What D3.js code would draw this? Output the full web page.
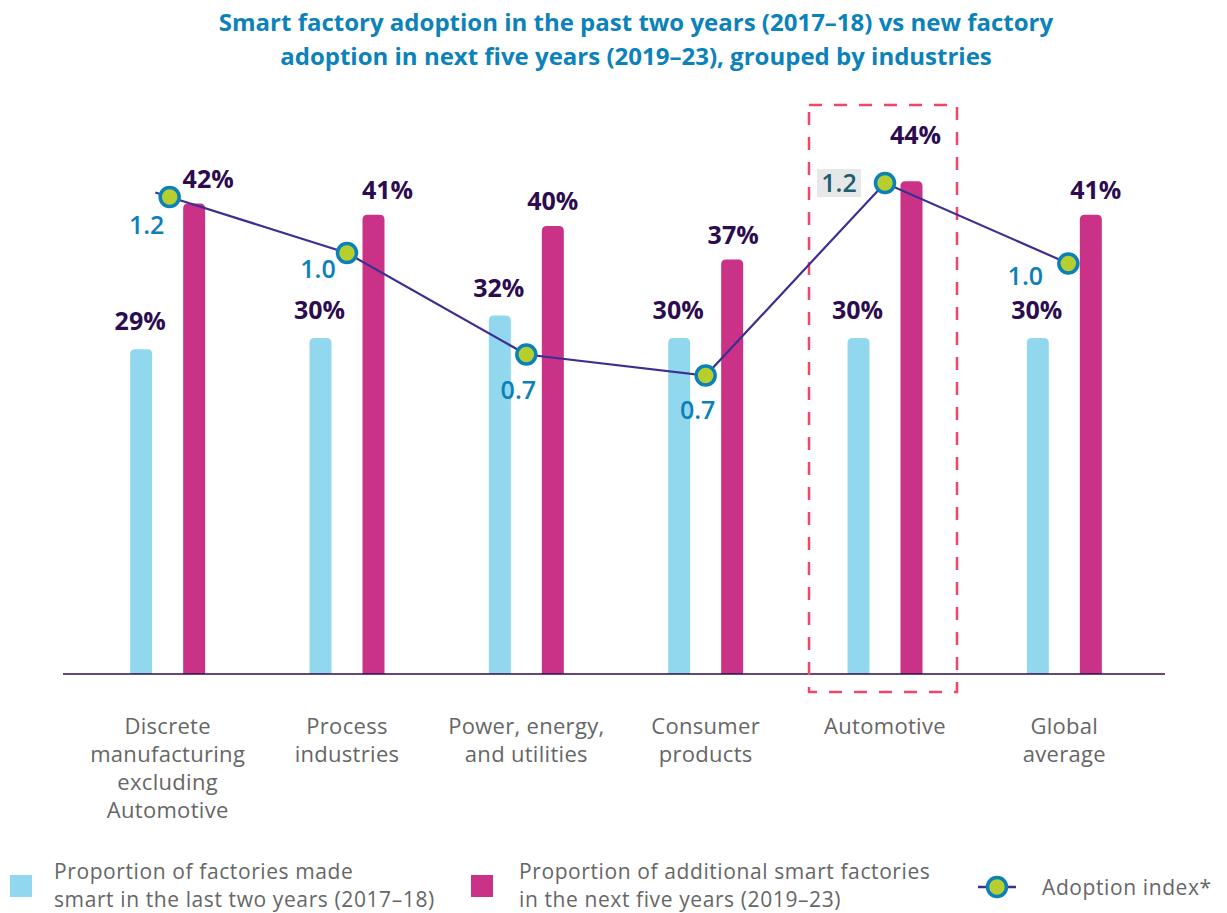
<!DOCTYPE html>
<html>
<head>
<meta charset="utf-8">
<script src="https://cdn.jsdelivr.net/npm/d3@7"></script>
<style>
  body { margin: 0; background: #fff; }
  text { font-family: "Open Sans", "Noto Sans", sans-serif; }
</style>
</head>
<body>
<script>
// data
var categories = [
    ["Discrete", "manufacturing", "excluding", "Automotive"],
    ["Process", "industries"],
    ["Power, energy,", "and utilities"],
    ["Consumer", "products"],
    ["Automotive"],
    ["Global", "average"]
];
var pastShare = [29, 30, 32, 30, 30, 30];
var nextShare = [42, 41, 40, 37, 44, 41];
var adoptionIndex = [1.18, 1.02, 0.73, 0.67, 1.22, 0.99];
var legendLabels = [
    ["Proportion of factories made", "smart in the last two years (2017\u201318)"],
    ["Proportion of additional smart factories", "in the next five years (2019\u201323)"],
    ["Adoption index*"]
];

// label nudges (layout only)
var nextLabelDx = [14, 14, 0, 1, 4, 5];
var indexLabelOffset = [[-23, 28], [-29, 16], [-8, 35], [-8, 34], [-46, 0], [-43, 12]];

var W = 1227, H = 913;
var svg = d3.select("body").append("svg")
    .attr("width", W).attr("height", H)
    .style("display", "block");

var baseY = 674;
var keys = d3.range(categories.length);

var x = d3.scaleBand().domain(keys).range([78, 1154]);
var xSub = d3.scalePoint().domain(["past", "next"]).range([-26.5, 26.5]);
var barW = 22;

var y = d3.scaleLinear().domain([0, 50]).range([baseY, 114]);
var yIdx = d3.scaleLinear().domain([0, 1.6]).range([610, 50]);

var cx = function(i) { return x(i) + x.bandwidth() / 2; };

var lightBlue = "#91d8ef", magenta = "#c93287", purple = "#2c0c4f",
    lineCol = "#3d2f92", idxBlue = "#0b80b9", dotFill = "#b7cf2e";

// title
var title = svg.append("text")
    .attr("x", 636).attr("y", 31)
    .attr("text-anchor", "middle")
    .style("font-size", "24px").style("font-weight", "bold")
    .attr("fill", "#0b82ba");
title.append("tspan").attr("x", 636).text("Smart factory adoption in the past two years (2017\u201318) vs new factory");
title.append("tspan").attr("x", 636).attr("dy", 34).text("adoption in next five years (2019\u201323), grouped by industries");

// rounded-top bar path
function topRounded(x0, y0, w, h, r) {
    r = Math.min(r, h);
    return "M" + x0 + "," + (y0 + h) +
        "V" + (y0 + r) +
        "Q" + x0 + "," + y0 + " " + (x0 + r) + "," + y0 +
        "H" + (x0 + w - r) +
        "Q" + (x0 + w) + "," + y0 + " " + (x0 + w) + "," + (y0 + r) +
        "V" + (y0 + h) + "Z";
}

// bars
var g = svg.append("g");
g.selectAll("path.past").data(pastShare).enter().append("path")
    .attr("class", "past")
    .attr("fill", lightBlue)
    .attr("d", function(d, i) {
        return topRounded(cx(i) + xSub("past") - barW / 2, y(d), barW, baseY - y(d), 5);
    });
g.selectAll("path.next").data(nextShare).enter().append("path")
    .attr("class", "next")
    .attr("fill", magenta)
    .attr("d", function(d, i) {
        return topRounded(cx(i) + xSub("next") - barW / 2, y(d), barW, baseY - y(d), 5);
    });

// baseline
svg.append("line")
    .attr("x1", 63).attr("x2", 1165)
    .attr("y1", baseY).attr("y2", baseY)
    .attr("stroke", purple).attr("stroke-width", 1.5);

// highlight box around Automotive
svg.append("rect")
    .attr("x", cx(4) - 76).attr("y", 105)
    .attr("width", 148).attr("height", 587)
    .attr("fill", "none")
    .attr("stroke", "#ef4669").attr("stroke-width", 2.5)
    .attr("stroke-dasharray", "13,12");

// bar value labels
g.selectAll("text.pastLbl").data(pastShare).enter().append("text")
    .attr("x", function(d, i) { return cx(i) + xSub("past") - 1; })
    .attr("y", function(d) { return y(d) - 19; })
    .attr("text-anchor", "middle")
    .style("font-size", "25px").style("font-weight", "bold")
    .attr("fill", purple)
    .text(function(d) { return d + "%"; });
g.selectAll("text.nextLbl").data(nextShare).enter().append("text")
    .attr("x", function(d, i) { return cx(i) + xSub("next") + nextLabelDx[i]; })
    .attr("y", function(d, i) { return i === 4 ? y(d) - 37 : y(d) - 16; })
    .attr("text-anchor", "middle")
    .style("font-size", "25px").style("font-weight", "bold")
    .attr("fill", purple)
    .text(function(d) { return d + "%"; });

// adoption index line
var pts = adoptionIndex.map(function(v, i) {
    var px = cx(i);
    if (i === 0) px += 2;
    if (i === 5) px += 4;
    return [px, yIdx(v)];
});
var stubDx = pts[0][0] - pts[1][0], stubDy = pts[0][1] - pts[1][1];
var stubLen = Math.sqrt(stubDx * stubDx + stubDy * stubDy);
var linePts = [[pts[0][0] + stubDx / stubLen * 15, pts[0][1] + stubDy / stubLen * 15]].concat(pts);

svg.append("path")
    .attr("d", d3.line()(linePts))
    .attr("fill", "none")
    .attr("stroke", lineCol).attr("stroke-width", 2.2);

svg.selectAll("circle.idx").data(pts).enter().append("circle")
    .attr("cx", function(d) { return d[0]; })
    .attr("cy", function(d) { return d[1]; })
    .attr("r", 9.5)
    .attr("fill", dotFill)
    .attr("stroke", idxBlue).attr("stroke-width", 3.5);

// index labels
svg.append("rect")
    .attr("x", pts[4][0] + indexLabelOffset[4][0] - 22)
    .attr("y", pts[4][1] - 14)
    .attr("width", 44).attr("height", 28)
    .attr("fill", "#e6e7e8");

svg.selectAll("text.idxLbl").data(adoptionIndex).enter().append("text")
    .attr("x", function(d, i) { return pts[i][0] + indexLabelOffset[i][0]; })
    .attr("y", function(d, i) { return pts[i][1] + indexLabelOffset[i][1] + 9; })
    .attr("text-anchor", "middle")
    .style("font-size", "25px").style("font-weight", "600")
    .attr("fill", function(d, i) { return i === 4 ? "#1c5e6e" : idxBlue; })
    .text(function(d) { return d.toFixed(1); });

// category labels
var catG = svg.selectAll("text.cat").data(categories).enter().append("text")
    .attr("text-anchor", "middle")
    .style("font-size", "22px").style("letter-spacing", "0.3px")
    .attr("fill", "#666");
catG.each(function(lines, i) {
    var t = d3.select(this);
    lines.forEach(function(l, j) {
        t.append("tspan")
            .attr("x", cx(i))
            .attr("y", 734 + j * 28)
            .text(l);
    });
});

// legend
var legend = svg.append("g");
legend.append("rect").attr("x", 10).attr("y", 875).attr("width", 22).attr("height", 22).attr("fill", lightBlue);
legend.append("rect").attr("x", 471).attr("y", 875).attr("width", 22).attr("height", 22).attr("fill", magenta);
legend.append("line").attr("x1", 978).attr("x2", 1016).attr("y1", 887).attr("y2", 887)
    .attr("stroke", lineCol).attr("stroke-width", 2.5);
legend.append("circle").attr("cx", 997).attr("cy", 887).attr("r", 9.5)
    .attr("fill", dotFill).attr("stroke", idxBlue).attr("stroke-width", 3.5);

var legX = [54, 519, 1042];
var legY = [879, 879, 895];
legendLabels.forEach(function(lines, k) {
    lines.forEach(function(l, j) {
        legend.append("text")
            .attr("x", legX[k]).attr("y", legY[k] + j * 28)
            .style("font-size", "21px").style("letter-spacing", "0.6px")
            .attr("fill", "#666")
            .text(l);
    });
});
</script>
</body>
</html>
